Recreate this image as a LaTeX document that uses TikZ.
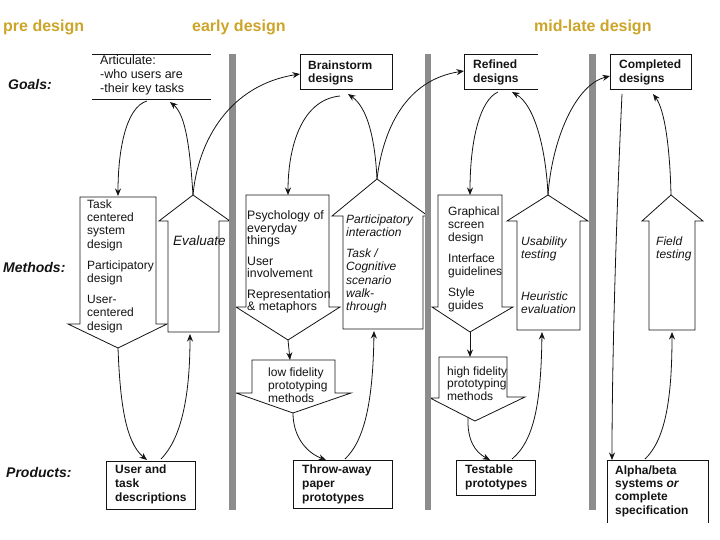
\documentclass[tikz,border=0pt]{standalone}
\usepackage{fontspec}
\setmainfont{Liberation Sans}
\usetikzlibrary{arrows.meta}
\definecolor{hdgold}{RGB}{204,164,40}
\definecolor{bargray}{RGB}{140,140,140}
\definecolor{ink}{RGB}{20,20,20}
\tikzset{
  txt/.style={font=\fontsize{12}{13}\selectfont, align=left, anchor=north west, inner sep=0pt, text=ink},
  itxt/.style={txt, font=\fontsize{12}{13}\selectfont\itshape},
  btxt/.style={txt, font=\fontsize{12}{14}\selectfont\bfseries},
  headtxt/.style={font=\fontsize{16}{18}\selectfont\bfseries, text=hdgold, anchor=base west, inner sep=0pt},
  rowlbl/.style={font=\fontsize{14}{16}\selectfont\bfseries\itshape, anchor=base west, inner sep=0pt, text=ink},
  bigarrow/.style={draw=ink, line width=0.8pt, fill=white, line join=miter},
  boxline/.style={draw=ink, line width=0.9pt},
  conn/.style={draw=ink, line width=0.8pt, -{Stealth[length=7.5pt,width=6pt]}},
  barfill/.style={fill=bargray, draw=none},
}
\begin{document}
\begin{tikzpicture}[x=1pt,y=-1pt]
\useasboundingbox (0,0) rectangle (720,540);

% headings
\node[headtxt] (hpre) at (3,32) {pre design};
\node[headtxt] (hearly) at (192,32) {early design};
\node[headtxt] (hmid) at (534,32) {mid-late design};

% row labels
\node[rowlbl] (lgoals) at (8,90) {Goals:};
\node[rowlbl] (lmeth) at (3,272) {Methods:};
\node[rowlbl] (lprod) at (6,477) {Products:};

% goal boxes
\draw[boxline] (92,54) -- (211,54) (92,99) -- (211,99);
\node[txt, font=\fontsize{12.5}{14}\selectfont] (gart) at (100,55.5) {Articulate:\\-who users are\\-their key tasks};
\draw[boxline] (300,54) rectangle (392,89);
\node[btxt, font=\fontsize{12}{13.5}\selectfont\bfseries] (gbrain) at (308,60.5) {Brainstorm\\designs};
\draw[boxline] (538,54) -- (464,54) -- (464,89) -- (538,89);
\node[btxt, font=\fontsize{12}{13.5}\selectfont\bfseries] (gref) at (473,60) {Refined\\designs};
\draw[boxline] (610,54) rectangle (691,89);
\node[btxt, font=\fontsize{12}{13.5}\selectfont\bfseries] (gcomp) at (619,60) {Completed\\designs};

% method arrows
\draw[bigarrow] (80,197) -- (156,197) -- (156,324) -- (167,324) -- (118,348) -- (68,324) -- (80,324) -- cycle;
\node[txt, font=\fontsize{12}{13.3}\selectfont] (mtask) at (87,199.5) {Task\\centered\\system\\design\\[8pt]Participatory\\design\\[7.5pt]User-\\centered\\design};
\draw[bigarrow] (168,332) -- (219,332) -- (219,221) -- (230,221) -- (193,195) -- (159,221) -- (168,221) -- cycle;
\node[itxt, font=\fontsize{13.5}{14}\selectfont\itshape] (meval) at (173,236) {Evaluate};

\draw[bigarrow] (246,195) -- (329,195) -- (329,307) -- (340,307) -- (288,340) -- (236,307) -- (246,307) -- cycle;
\node[txt, font=\fontsize{12.3}{12.5}\selectfont] (mpsy) at (247,210.5) {Psychology of\\everyday\\things\\[8pt]User\\involvement\\[8pt]Representation\\\& metaphors};
\draw[bigarrow] (343,329) -- (423,329) -- (423,216) -- (428,216) -- (377,179) -- (332,216) -- (343,216) -- cycle;
\node[itxt, font=\fontsize{12}{13.2}\selectfont\itshape] (mpart) at (346,214.5) {Participatory\\interaction\\[8pt]Task /\\Cognitive\\scenario\\walk-\\through};

\draw[bigarrow] (438,195) -- (502,195) -- (502,307) -- (513,307) -- (470,332) -- (432,307) -- (438,307) -- cycle;
\node[txt] (mgraph) at (448,206.5) {Graphical\\screen\\design\\[8pt]Interface\\guidelines\\[8pt]Style\\guides};
\draw[bigarrow] (517,330) -- (580,330) -- (580,221) -- (588,221) -- (548,195) -- (507,221) -- (517,221) -- cycle;
\node[itxt] (musab) at (521,236.5) {Usability\\testing};
\node[itxt] (mheur) at (521,291.5) {Heuristic\\evaluation};

\draw[bigarrow] (649,330) -- (695,330) -- (695,221) -- (703,221) -- (671,195) -- (642,221) -- (649,221) -- cycle;
\node[itxt] (mfield) at (656,236.5) {Field\\testing};

% prototyping arrows
\draw[bigarrow] (252,360) -- (335,360) -- (335,393) -- (351,393) -- (293,413) -- (236,393) -- (252,393) -- cycle;
\node[txt, font=\fontsize{12}{13.3}\selectfont] (mlow) at (268,367.5) {low fidelity\\prototyping\\methods};
\draw[bigarrow] (439,357) -- (507,357) -- (507,397) -- (525,397) -- (475,421) -- (430,398) -- (439,398) -- cycle;
\node[txt, font=\fontsize{12}{12.5}\selectfont] (mhigh) at (447,366.5) {high fidelity\\prototyping\\methods};

% product boxes
\draw[boxline] (106,461) rectangle (195,509);
\node[btxt] (puser) at (115,464.5) {User and\\task\\descriptions};
\draw[boxline] (293,460) rectangle (392,508);
\node[btxt] (pthrow) at (302,464.5) {Throw-away\\paper\\prototypes};
\draw[boxline] (456,460) rectangle (535,495);
\node[btxt] (ptest) at (465,464.5) {Testable\\prototypes};
\draw[boxline] (607,523) -- (607,460) -- (708,460) -- (708,523);
\node[btxt, font=\fontsize{12}{13.3}\selectfont\bfseries] (palpha) at (615,465.5) {Alpha/beta\\systems \textit{or}\\complete\\specification};

% phase bars
\fill[barfill] (229,54) rectangle (236,510);
\fill[barfill] (425,54) rectangle (431,510);
\fill[barfill] (589,54) rectangle (596,510);

% connector end points
\coordinate (artB1) at (147,101);
\coordinate (artB2) at (170,102);
\coordinate (taskT) at (118,196);
\coordinate (taskP) at (118,348);
\coordinate (evalT) at (193,195);
\coordinate (evalB) at (190,334);
\coordinate (userT1) at (147,460);
\coordinate (userT2) at (161,459);
\coordinate (brainL) at (300,74);
\coordinate (brainB1) at (340,96);
\coordinate (brainB2) at (348,94);
\coordinate (psyT) at (288,195);
\coordinate (psyP) at (288,340);
\coordinate (partT) at (377,179);
\coordinate (partB) at (374,331);
\coordinate (lowT) at (290,360);
\coordinate (lowP) at (293,413);
\coordinate (throwT1) at (326,460);
\coordinate (throwT2) at (345,459);
\coordinate (refL) at (464,71);
\coordinate (refB1) at (498,92);
\coordinate (refB2) at (512,92);
\coordinate (graT) at (470,195);
\coordinate (graP) at (470,332);
\coordinate (highT) at (470,357);
\coordinate (highP) at (468,417);
\coordinate (testT1) at (490,460);
\coordinate (testT2) at (512,459);
\coordinate (usaT) at (548,195);
\coordinate (usaB) at (542,332);
\coordinate (compL) at (610,76);
\coordinate (compB1) at (622,94);
\coordinate (compB2) at (653,94);
\coordinate (fldT) at (671,195);
\coordinate (fldB) at (672,332);
\coordinate (alphaT1) at (612,460);
\coordinate (alphaT2) at (645,459);

% connectors
\draw[conn] (artB1) .. controls (126,107) and (118,150) .. (taskT);
\draw[conn] (evalT) .. controls (190,150) and (186,115) .. (artB2);
\draw[conn] (evalT) .. controls (198,140) and (230,85) .. (brainL);
\draw[conn] (taskP) .. controls (120,400) and (125,442) .. (userT1);
\draw[conn] (userT2) .. controls (180,440) and (190,400) .. (evalB);

\draw[conn] (brainB1) .. controls (300,100) and (288,150) .. (psyT);
\draw[conn] (partT) .. controls (375,140) and (368,108) .. (brainB2);
\draw[conn] (partT) .. controls (383,130) and (405,80) .. (refL);
\draw[conn] (psyP) -- (lowT);
\draw[conn] (lowP) .. controls (293,435) and (305,452) .. (throwT1);
\draw[conn] (throwT2) .. controls (365,440) and (373,400) .. (partB);

\draw[conn] (refB1) .. controls (480,100) and (470,140) .. (graT);
\draw[conn] (usaT) .. controls (546,150) and (535,105) .. (refB2);
\draw[conn] (usaT) .. controls (552,140) and (575,85) .. (compL);
\draw[conn] (graP) -- (highT);
\draw[conn] (highP) .. controls (467,440) and (475,452) .. (testT1);
\draw[conn] (testT2) .. controls (535,440) and (541,400) .. (usaB);

\draw[conn] (compB1) .. controls (617,200) and (612,350) .. (alphaT1);
\draw[conn] (fldT) .. controls (670,150) and (665,110) .. (compB2);
\draw[conn] (alphaT2) .. controls (665,440) and (672,400) .. (fldB);
\end{tikzpicture}
\end{document}
